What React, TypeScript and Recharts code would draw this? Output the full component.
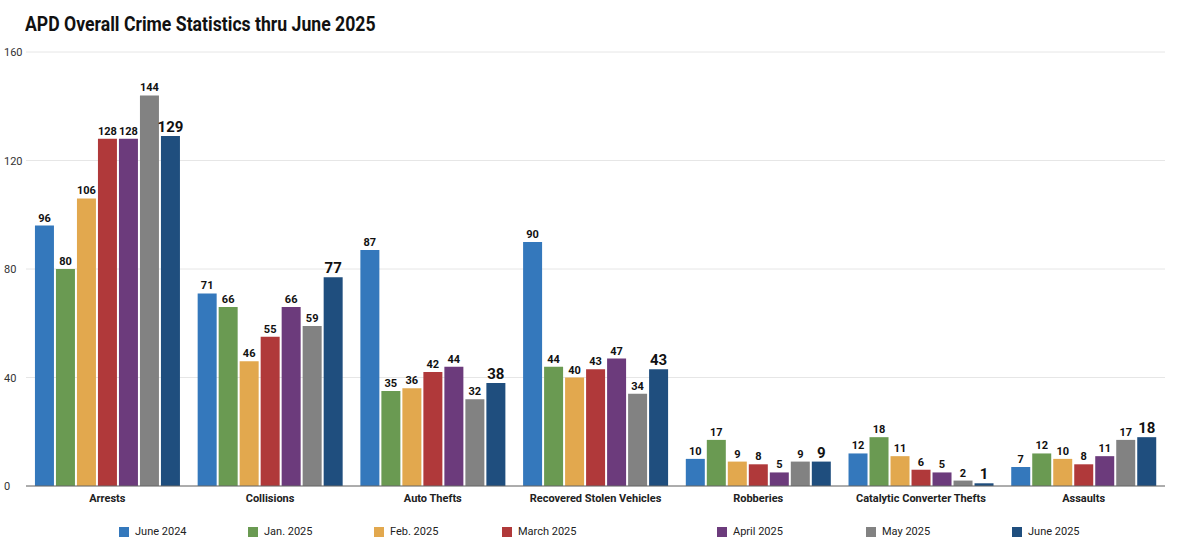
import React from "react";
import { BarChart, Bar, XAxis, YAxis, CartesianGrid, LabelList } from "recharts";

const categories = [
  "Arrests",
  "Collisions",
  "Auto Thefts",
  "Recovered Stolen Vehicles",
  "Robberies",
  "Catalytic Converter Thefts",
  "Assaults",
];

const june2024 = [96, 71, 87, 90, 10, 12, 7];
const jan2025 = [80, 66, 35, 44, 17, 18, 12];
const feb2025 = [106, 46, 36, 40, 9, 11, 10];
const march2025 = [128, 55, 42, 43, 8, 6, 8];
const april2025 = [128, 66, 44, 47, 5, 5, 11];
const may2025 = [144, 59, 32, 34, 9, 2, 17];
const june2025 = [129, 77, 38, 43, 9, 1, 18];

const yTicks = [0, 40, 80, 120, 160];

const series = [
  { key: "june2024", name: "June 2024", values: june2024, color: "#3478bc" },
  { key: "jan2025", name: "Jan. 2025", values: jan2025, color: "#6a9a52" },
  { key: "feb2025", name: "Feb. 2025", values: feb2025, color: "#e2a84e" },
  { key: "march2025", name: "March 2025", values: march2025, color: "#b0393a" },
  { key: "april2025", name: "April 2025", values: april2025, color: "#6c3b7c" },
  { key: "may2025", name: "May 2025", values: may2025, color: "#828282" },
  { key: "june2025", name: "June 2025", values: june2025, color: "#1f4e7e" },
];

const data = categories.map((name, i) => {
  const row: Record<string, string | number> = { name };
  series.forEach((s) => {
    row[s.key] = s.values[i];
  });
  return row;
});

const FONT = 'Roboto, "Liberation Sans", sans-serif';

// legend item left edges
const legendX = [119, 248, 374, 502, 717, 866, 1012];

const YTick = (props: any) => {
  const { y, payload } = props;
  return (
    <text x={4} y={y + 4} fontSize={11} fill="#333" fontFamily={FONT}>
      {payload.value}
    </text>
  );
};

export default function App() {
  return (
    <div style={{ position: "absolute", left: 0, top: 0, width: 1200, height: 555, background: "#fff", fontFamily: FONT }}>
      <div
        style={{
          position: "absolute",
          left: 25,
          top: 12,
          fontSize: 21,
          fontWeight: 700,
          color: "#111",
          whiteSpace: "nowrap",
          transform: "scaleX(0.84)",
          transformOrigin: "left center",
        }}
      >
        APD Overall Crime Statistics thru June 2025
      </div>
      <BarChart
        width={1200}
        height={510}
        data={data}
        margin={{ top: 52, right: 35, left: 0, bottom: 0 }}
        barGap={2}
        barCategoryGap="5.5%"
      >
        <CartesianGrid vertical={false} stroke="#e6e6e6" />
        <XAxis
          dataKey="name"
          height={24}
          tickLine={false}
          axisLine={{ stroke: "#666" }}
          tick={{ fontSize: 11, fontWeight: 700, fill: "#222", fontFamily: FONT }}
          interval={0}
        />
        <YAxis
          width={26}
          domain={[0, 160]}
          ticks={yTicks}
          axisLine={false}
          tickLine={false}
          tick={<YTick />}
        />
        {series.map((s, i) => (
          <Bar key={s.key} dataKey={s.key} name={s.name} fill={s.color} isAnimationActive={false}>
            <LabelList
              dataKey={s.key}
              position="top"
              offset={4}
              fill="#111"
              fontSize={i === series.length - 1 ? 15 : 11}
              fontWeight={700}
              fontFamily={FONT}
            />
          </Bar>
        ))}
      </BarChart>
      {series.map((s, i) => (
        <div
          key={s.key}
          style={{
            position: "absolute",
            left: legendX[i],
            top: 525,
            display: "flex",
            alignItems: "center",
            fontSize: 11,
            color: "#222",
            whiteSpace: "nowrap",
          }}
        >
          <span style={{ display: "inline-block", width: 10, height: 10, background: s.color, marginRight: 6 }} />
          {s.name}
        </div>
      ))}
    </div>
  );
}
